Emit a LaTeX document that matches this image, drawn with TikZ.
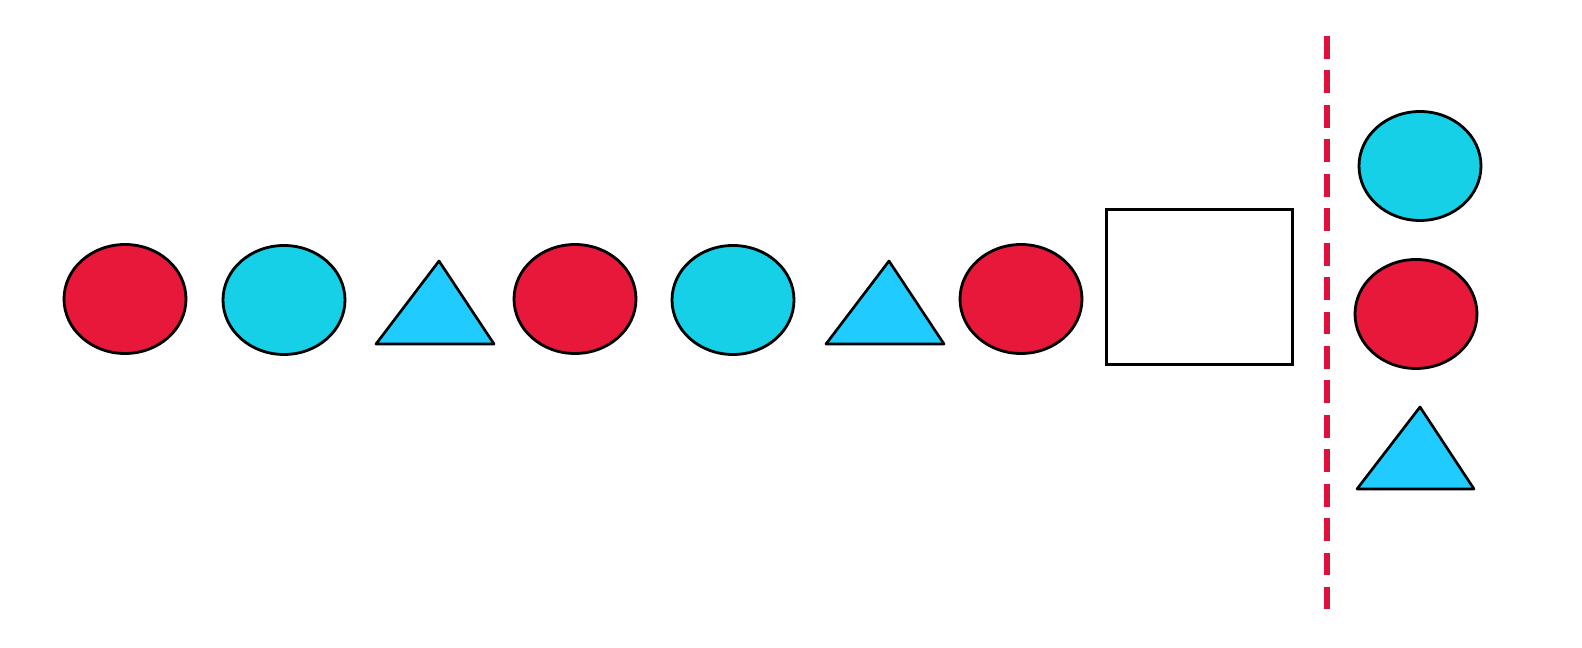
\documentclass[tikz,border=0pt]{standalone}
\usetikzlibrary{shapes.geometric}

\definecolor{shapered}{HTML}{E8183A}
\definecolor{shapecyan}{HTML}{16D0E8}
\definecolor{shapesky}{HTML}{20CCFF}
\definecolor{divred}{HTML}{E0103C}

\begin{document}
\begin{tikzpicture}[
  x=0.2mm, y=-0.2mm,
  blob/.style={ellipse, draw=black, line width=1.6pt, minimum width=24.4mm,
               minimum height=21.8mm, inner sep=0pt},
  redblob/.style={blob, fill=shapered},
  cyanblob/.style={blob, fill=shapecyan},
  tri/.style={draw=black, line width=1.5pt, fill=shapesky, line join=round},
  frame/.style={rectangle, draw=black, line width=1.8pt, minimum width=37.2mm,
                minimum height=31mm, inner sep=0pt},
  divider/.style={draw=divred, line width=3.2pt, dash pattern=on 13pt off 6.6pt}
]
\useasboundingbox (0,0) rectangle (1582,648);

% the row
\node[redblob]  (r1) at (125,  299) {};
\node[cyanblob] (c1) at (284,  300) {};
\filldraw[tri] (439,261) -- (494,344) -- (376,344) -- cycle;
\node[redblob]  (r2) at (575,  299) {};
\node[cyanblob] (c2) at (733,  300) {};
\filldraw[tri] (889,261) -- (944,344) -- (826,344) -- cycle;
\node[redblob]  (r3) at (1021, 299) {};
\node[frame]    (gap) at (1199.5, 287) {};

% divider
\coordinate (divtop) at (1327, 36);
\coordinate (divbot) at (1327, 609);
\draw[divider] (divtop) -- (divbot);

% the column on the right
\node[cyanblob] (c3) at (1420, 166) {};
\node[redblob]  (r4) at (1416, 314) {};
\filldraw[tri] (1420,407) -- (1474,489) -- (1357,489) -- cycle;
\end{tikzpicture}
\end{document}
